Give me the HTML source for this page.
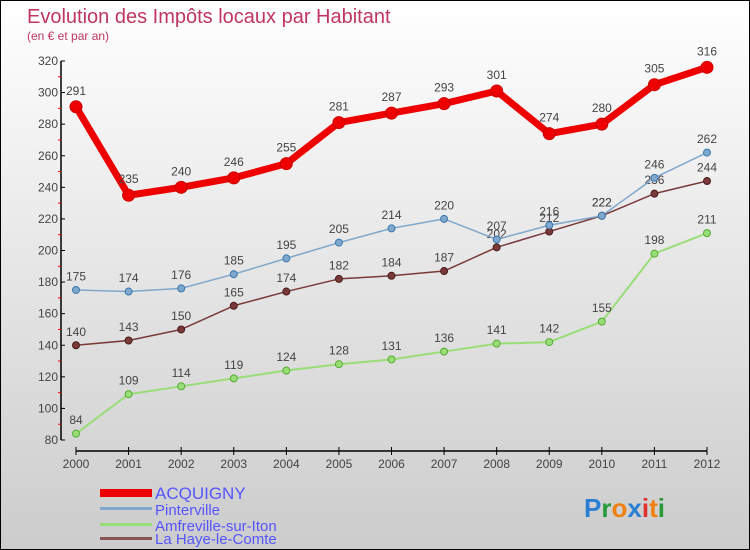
<!DOCTYPE html>
<html><head><meta charset="utf-8"><style>
body{margin:0}
#c{width:748px;height:548px;border:1px solid #000;background:linear-gradient(#fff,#ccc);position:relative;font-family:"Liberation Sans",sans-serif}
</style></head><body>
<div id="c">
<svg id="s" width="748" height="548" style="position:absolute;left:0;top:0">
<text x="26" y="22" font-size="20" fill="#c0365f">Evolution des Impôts locaux par Habitant</text>
<text x="26" y="39" font-size="12" fill="#c0365f">(en € et par an)</text>
<g id="axes"></g><g id="series"></g>
<g font-size="15" fill="#5555ff">
<rect x="99" y="488" width="52" height="8" fill="#e00"/>
<text x="154" y="498" font-size="17">ACQUIGNY</text>
<rect x="99" y="506" width="52" height="3" fill="#7fa8cc"/>
<text x="154" y="514">Pinterville</text>
<rect x="99" y="522" width="52" height="3" fill="#99dd77"/>
<text x="154" y="530">Amfreville-sur-Iton</text>
<rect x="99" y="536" width="52" height="3" fill="#8a5555"/>
<text x="154" y="543">La Haye-le-Comte</text>
</g>
<text x="583" y="516" font-size="26" font-weight="bold"><tspan fill="#2a7fd4">P</tspan><tspan fill="#2a9a3a">r</tspan><tspan fill="#f08010">o</tspan><tspan fill="#2a7fd4">x</tspan><tspan fill="#e03030">i</tspan><tspan fill="#f08010">t</tspan><tspan fill="#2a9a3a">i</tspan></text>
</svg></div>
<script>
const years=[2000,2001,2002,2003,2004,2005,2006,2007,2008,2009,2010,2011,2012];
const yTicks=[80,100,120,140,160,180,200,220,240,260,280,300,320];
const acquigny=[291,235,240,246,255,281,287,293,301,274,280,305,316];
const pinterville=[175,174,176,185,195,205,214,220,207,216,222,246,262];
const amfreville=[84,109,114,119,124,128,131,136,141,142,155,198,211];
const laHaye=[140,143,150,165,174,182,184,187,202,212,222,236,244];
const NS="http://www.w3.org/2000/svg";
function X(i){return 75+i*(706-75)/(years.length-1);}
function Y(v){return 439-(v-80)*(439-60)/240;}
function mk(t,a,p){const e=document.createElementNS(NS,t);for(const k in a)e.setAttribute(k,a[k]);p.appendChild(e);return e;}
const ax=document.getElementById('axes'),sg=document.getElementById('series');
mk('line',{x1:60,y1:Y(320),x2:60,y2:Y(80),stroke:'#000','stroke-width':1.5},ax);
yTicks.forEach((v,i)=>{
 mk('line',{x1:60,y1:Y(v),x2:64,y2:Y(v),stroke:'#000'},ax);
 const t=mk('text',{x:57,y:Y(v)+4,'font-size':12,'text-anchor':'end',fill:'#444'},ax);t.textContent=v;
 
 
 if(i<yTicks.length-1)mk('line',{x1:57,y1:Y(v+10),x2:60,y2:Y(v+10),stroke:'#e00'},ax);
});
mk('line',{x1:75,y1:450,x2:706,y2:450,stroke:'#000','stroke-width':1.5},ax);
years.forEach((yr,i)=>{
 mk('line',{x1:X(i),y1:446,x2:X(i),y2:454,stroke:'#000'},ax);
 const t=mk('text',{x:X(i),y:467,'font-size':12,'text-anchor':'middle',fill:'#444'},ax);t.textContent=yr;
 
 
});
function series(d,col,dark,w,r,name){
 const g=mk('g',{},sg);
 
 
 mk('polyline',{points:d.map((v,i)=>X(i)+','+Y(v)).join(' '),fill:'none',stroke:col,'stroke-width':w,'stroke-linejoin':'round'},g);
 d.forEach((v,i)=>{
  const c=mk('circle',{cx:X(i),cy:Y(v),r:r,fill:col,stroke:dark,'stroke-width':1},g);
  
  
  const t=mk('text',{x:X(i),y:Y(v)-(r+6),'font-size':12,'text-anchor':'middle',fill:'#444'},g);t.textContent=v;
  
  
 });
}
series(amfreville,'#99dd77','#55aa33',2,3.5,'series-amfreville');
series(laHaye,'#7a3a3a','#4a1a1a',1.5,3.5,'series-la-haye');
series(pinterville,'#7fa8cc','#3a78b0',1.5,3.5,'series-pinterville');
series(acquigny,'#ee0000','#cc0000',7,6,'series-acquigny');
</script>
</body></html>
